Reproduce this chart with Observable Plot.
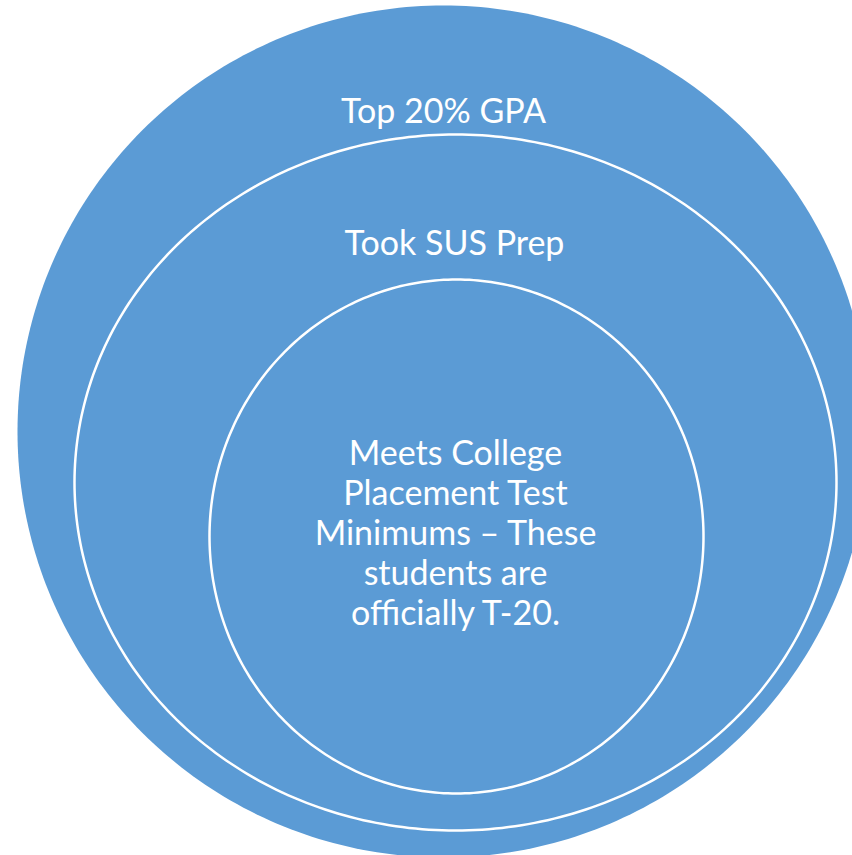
<!DOCTYPE html>
<html>
<head>
<meta charset="utf-8">
<script src="https://cdn.jsdelivr.net/npm/d3@7"></script>
<script src="https://cdn.jsdelivr.net/npm/@observablehq/plot@0.6"></script>
<style>
  html, body { margin: 0; padding: 0; background: #ffffff; }
  #chart svg { display: block; }
</style>
</head>
<body>
<div id="chart"></div>
<script>
// Nested-ring diagram: outermost to innermost
const ringNames  = ["Top 20% GPA", "Took SUS Prep", "Meets College Placement Test Minimums – These students are officially T-20."];
const ringLines  = [["Top 20% GPA"], ["Took SUS Prep"], ["Meets College", "Placement Test", "Minimums – These", "students are", "officially T-20."]];
// ring geometry in diagram units (centre x, centre y, half-width, half-height)
const ringCx = [443, 455, 456];
const ringCy = [431, 482, 536];
const ringRx = [426, 381, 247];
const ringRy = [426, 348, 257];
// label anchor (baseline of last line) in diagram units
const labelX = [443, 454, 455];
const labelY = [122, 254, 624];

const W = 852, H = 855;
const blue = "#5B9BD5";

function outline(i) {
  const pts = [];
  for (let a = 0; a <= 360; a += 1) {
    const t = a * Math.PI / 180;
    pts.push({ring: ringNames[i], x: ringCx[i] + ringRx[i] * Math.cos(t), y: ringCy[i] + ringRy[i] * Math.sin(t)});
  }
  return pts;
}

const labels = ringNames.map((n, i) => ({name: n, text: ringLines[i].join("\n"), x: labelX[i], y: labelY[i]}));

const chart = Plot.plot({
  width: W,
  height: H,
  margin: 0,
  x: {domain: [0, W], range: [0, W], axis: null},
  y: {domain: [0, H], range: [0, H], axis: null},
  marks: [
    Plot.line(outline(0), {x: "x", y: "y", fill: blue, stroke: "none"}),
    Plot.line(outline(1), {x: "x", y: "y", stroke: "white", strokeWidth: 2.5}),
    Plot.line(outline(2), {x: "x", y: "y", stroke: "white", strokeWidth: 2.5}),
    Plot.text(labels, {
      x: "x", y: "y", text: "text",
      fill: "white", fontSize: 34, fontFamily: "Lato, 'Open Sans', sans-serif",
      textAnchor: "middle", lineAnchor: "bottom", lineHeight: 40 / 34
    })
  ]
});
document.getElementById("chart").appendChild(chart);
</script>
</body>
</html>
